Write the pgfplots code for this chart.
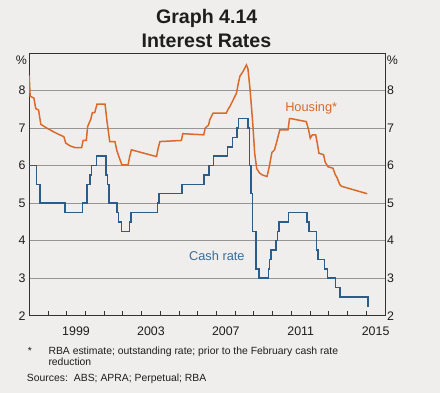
\documentclass[border=0pt]{standalone}
\usepackage{pgfplots}
\pgfplotsset{compat=1.18}
\usepackage{fontspec}
\setmainfont{Liberation Sans}
\definecolor{bg}{RGB}{239,238,236}
\definecolor{housing}{RGB}{217,106,44}
\definecolor{cash}{RGB}{44,92,138}
\definecolor{cashtxt}{RGB}{58,108,152}
\definecolor{gridc}{RGB}{150,150,150}
\definecolor{axc}{RGB}{50,50,50}
\definecolor{txt}{RGB}{30,30,30}
\pgfplotstableread{
t v
1997.00 6.00
1997.39 5.50
1997.58 5.00
1998.92 4.75
1999.84 5.00
2000.09 5.50
2000.26 5.75
2000.34 6.00
2000.59 6.25
2001.10 5.75
2001.18 5.50
2001.26 5.00
2001.68 4.75
2001.76 4.50
2001.92 4.25
2002.35 4.50
2002.43 4.75
2003.84 5.00
2003.92 5.25
2005.17 5.50
2006.34 5.75
2006.59 6.00
2006.85 6.25
2007.60 6.50
2007.85 6.75
2008.10 7.00
2008.18 7.25
2008.68 7.00
2008.77 6.00
2008.84 5.25
2008.92 4.25
2009.10 3.25
2009.27 3.00
2009.77 3.25
2009.84 3.50
2009.92 3.75
2010.17 4.00
2010.26 4.25
2010.34 4.50
2010.84 4.75
2011.84 4.50
2011.93 4.25
2012.34 3.75
2012.43 3.50
2012.76 3.25
2012.93 3.00
2013.35 2.75
2013.60 2.50
2015.10 2.25
2015.17 2.25
}\cashdata
\pgfplotstableread{
t v
1997.00 8.40
1997.05 7.85
1997.25 7.80
1997.35 7.52
1997.50 7.48
1997.62 7.10
1998.00 6.98
1998.50 6.85
1998.85 6.77
1998.95 6.60
1999.20 6.52
1999.45 6.48
1999.80 6.48
1999.88 6.67
2000.05 6.67
2000.12 7.04
2000.30 7.25
2000.37 7.41
2000.50 7.41
2000.62 7.64
2001.05 7.64
2001.15 7.20
2001.30 6.64
2001.58 6.64
2001.68 6.40
2001.78 6.25
2001.95 6.02
2002.28 6.02
2002.37 6.25
2002.46 6.42
2003.80 6.24
2003.88 6.45
2003.98 6.64
2005.13 6.67
2005.20 6.85
2006.32 6.82
2006.40 7.00
2006.58 7.08
2006.64 7.22
2006.82 7.40
2007.53 7.40
2007.62 7.50
2007.71 7.57
2007.89 7.75
2008.07 7.93
2008.17 8.20
2008.25 8.38
2008.42 8.51
2008.60 8.68
2008.68 8.58
2008.78 8.10
2008.88 7.50
2008.95 7.04
2009.04 6.33
2009.15 5.92
2009.30 5.80
2009.45 5.75
2009.70 5.71
2009.82 5.97
2009.96 6.35
2010.10 6.42
2010.20 6.60
2010.38 6.95
2010.82 6.95
2010.90 7.25
2011.00 7.25
2011.80 7.17
2011.92 6.95
2012.01 6.73
2012.12 6.82
2012.30 6.82
2012.40 6.55
2012.47 6.33
2012.72 6.29
2012.80 6.10
2012.95 5.97
2013.22 5.93
2013.35 5.75
2013.42 5.70
2013.58 5.50
2013.67 5.45
2015.05 5.25
}\housingdata
\begin{document}
\begin{tikzpicture}
\fill[bg] (0,0) rectangle (440bp,393bp);
\useasboundingbox (0,0) rectangle (440bp,393bp);
\node[anchor=base,inner sep=0pt,text=txt,font=\fontsize{19.6bp}{22bp}\selectfont\bfseries] at (206.7bp,369.7bp) {Graph 4.14};
\node[anchor=base,inner sep=0pt,text=txt,font=\fontsize{19.6bp}{22bp}\selectfont\bfseries] at (206.5bp,345.3bp) {Interest Rates};
\begin{axis}[
  at={(29.2bp,77.3bp)}, anchor=south west,
  scale only axis, width=355.8bp, height=262.7bp,
  xmin=1997, xmax=2016, ymin=2, ymax=9,
  axis line style={color=axc, line width=0.9bp},
  xtick={1997,...,2015}, xticklabels={},
  xtick pos=bottom, tick align=inside,
  major tick length=4.5bp,
  tick style={color=axc, line width=0.8bp},
  extra x ticks={1999.5,2003.5,2007.5,2011.5,2015.5},
  extra x tick labels={1999,2003,2007,2011,2015},
  extra x tick style={major tick length=0pt, xticklabel style={anchor=base, yshift=-20bp}},
  ytick={2,...,8},
  ytick style={draw=none},
  ymajorgrids, grid style={color=gridc, line width=0.8bp},
  ytick pos=left,
  yticklabel style={anchor=east, inner sep=0pt, xshift=-3.5bp},
  /pgf/number format/assume math mode=true,
  ticklabel style={font=\fontsize{12.4bp}{14bp}\selectfont, text=txt},
  clip=true,
]
\addplot[const plot mark left, color=cash, line width=1.5bp, mark=none] table[x=t,y=v] {\cashdata};
\addplot[color=housing, line width=1.5bp, mark=none] table[x=t,y=v] {\housingdata};
\node[text=housing, font=\fontsize{12.8bp}{14bp}\selectfont] at (axis cs:2012.06,7.54) {Housing*};
\node[text=cashtxt, font=\fontsize{12.8bp}{14bp}\selectfont] at (axis cs:2007.02,3.59) {Cash rate};
\end{axis}
\begin{axis}[
  at={(29.2bp,77.3bp)}, anchor=south west,
  scale only axis, width=355.8bp, height=262.7bp,
  xmin=1997, xmax=2016, ymin=2, ymax=9,
  axis x line=none, axis y line*=right,
  axis line style={color=axc, line width=0.9bp, -},
  ytick={2,...,8},
  ytick style={draw=none},
  yticklabel pos=right,
  yticklabel style={anchor=west, inner sep=0pt, xshift=2bp},
  /pgf/number format/assume math mode=true,
  ticklabel style={font=\fontsize{12.4bp}{14bp}\selectfont, text=txt},
]
\addplot[draw=none, mark=none] coordinates {(1997,2) (2016,9)};
\end{axis}
\node[text=txt, font=\fontsize{12.4bp}{14bp}\selectfont] at (21.5bp,333bp) {\%};
\node[text=txt, font=\fontsize{12.4bp}{14bp}\selectfont] at (392.3bp,333bp) {\%};
\begin{scope}[every node/.style={anchor=base west, inner sep=0pt, text=txt, font=\fontsize{10.4bp}{12bp}\selectfont}]
\node at (27.7bp,39bp) {*};
\node at (48.3bp,39bp) {RBA estimate; outstanding rate; prior to the February cash rate};
\node at (48.3bp,27.3bp) {reduction};
\node at (26.7bp,11.3bp) {Sources:\hspace{6bp}ABS; APRA; Perpetual; RBA};
\end{scope}
\end{tikzpicture}
\end{document}
